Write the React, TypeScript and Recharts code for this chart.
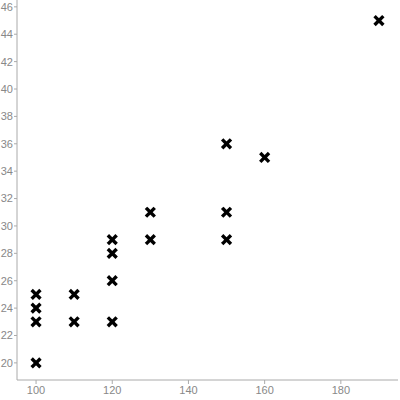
import { ScatterChart, Scatter, XAxis, YAxis } from "recharts";

const xValues = [100, 100, 100, 100, 110, 110, 120, 120, 120, 120, 130, 130, 150, 150, 150, 160, 190];
const yValues = [20, 23, 24, 25, 23, 25, 23, 26, 28, 29, 29, 31, 29, 31, 36, 35, 45];
const xTicks = [100, 120, 140, 160, 180];
const yTicks = [20, 22, 24, 26, 28, 30, 32, 34, 36, 38, 40, 42, 44, 46];

const points = xValues.map((x, i) => ({ x, y: yValues[i] }));

const AXIS = "#aaaaaa";
const TICK = { fill: "#888888", fontSize: 11, fontFamily: "Liberation Sans, Arial, sans-serif" };

// bold "x" marker
const XMark = (props: any) => {
  const { cx, cy } = props;
  const r = 3.2;
  return (
    <g>
      <line x1={cx - r} y1={cy - r} x2={cx + r} y2={cy + r} stroke="#000" strokeWidth={3.4} strokeLinecap="square" />
      <line x1={cx - r} y1={cy + r} x2={cx + r} y2={cy - r} stroke="#000" strokeWidth={3.4} strokeLinecap="square" />
    </g>
  );
};

export default function App() {
  return (
    <div style={{ position: "absolute", left: 0, top: 0, width: 400, height: 400, background: "#fff" }}>
      <ScatterChart width={400} height={400} margin={{ top: 0, right: 2, left: 0, bottom: 0 }}>
        <XAxis
          type="number"
          dataKey="x"
          domain={[95, 195]}
          ticks={xTicks}
          height={20}
          stroke={AXIS}
          tick={TICK}
          tickSize={4}
          tickMargin={2}
          allowDataOverflow
        />
        <YAxis
          type="number"
          dataKey="y"
          domain={[18.75, 46.5]}
          ticks={yTicks}
          width={17}
          stroke={AXIS}
          tick={TICK}
          tickSize={3}
          tickMargin={1}
          allowDataOverflow
        />
        <Scatter data={points} shape={XMark} isAnimationActive={false} />
      </ScatterChart>
    </div>
  );
}
